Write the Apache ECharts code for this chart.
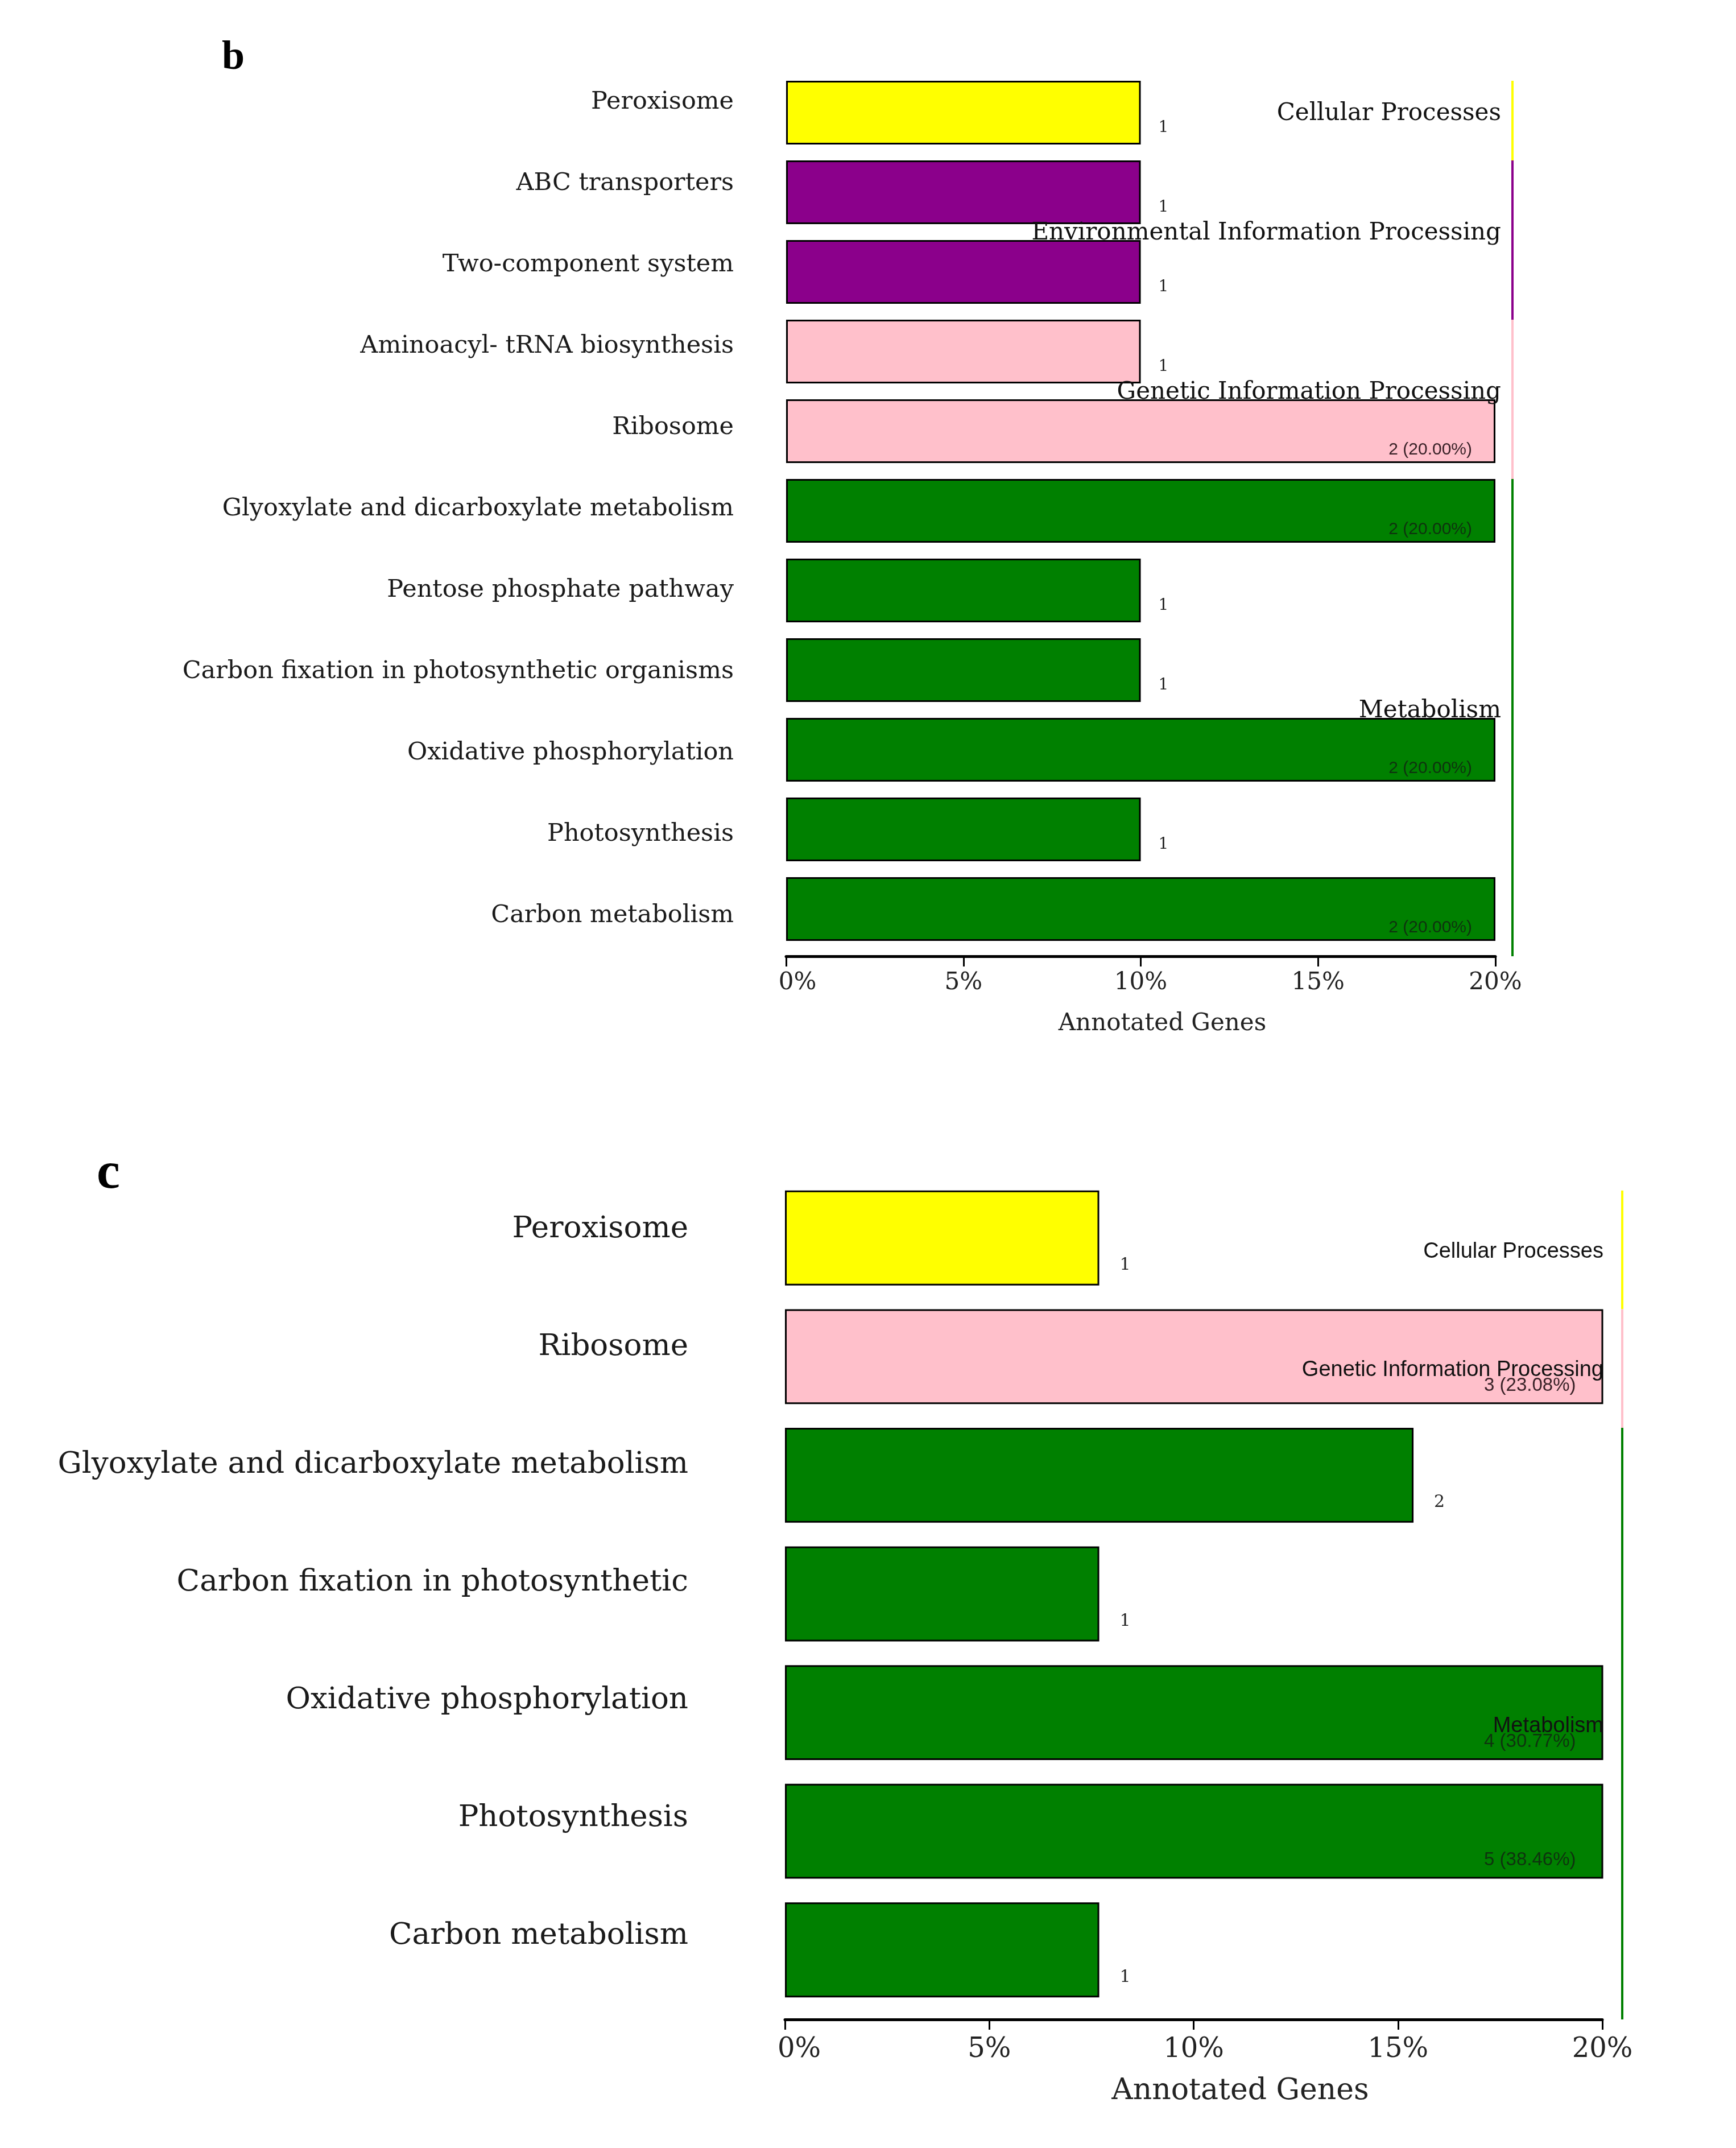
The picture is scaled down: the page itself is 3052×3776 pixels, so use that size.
<!DOCTYPE html>
<html><head><meta charset="utf-8">
<script src="https://cdn.jsdelivr.net/npm/echarts@6/dist/echarts.min.js"></script>
<style>html,body{margin:0;padding:0;background:#fff}#main{width:3052px;height:3776px}</style>
</head><body><div id="main"></div>
<script>
// ---- Panel b data ----
const bCategories = ['Peroxisome','ABC transporters','Two-component system','Aminoacyl- tRNA biosynthesis','Ribosome','Glyoxylate and dicarboxylate metabolism','Pentose phosphate pathway','Carbon fixation in photosynthetic organisms','Oxidative phosphorylation','Photosynthesis','Carbon metabolism'];
const bCounts = [1,1,1,1,2,2,1,1,2,1,2];
const bPercent = [10,10,10,10,20,20,10,10,20,10,20];
const bClasses = ['Cellular Processes','Environmental Information Processing','Environmental Information Processing','Genetic Information Processing','Genetic Information Processing','Metabolism','Metabolism','Metabolism','Metabolism','Metabolism','Metabolism'];

// ---- Panel c data ----
const cCategories = ['Peroxisome','Ribosome','Glyoxylate and dicarboxylate metabolism','Carbon fixation in photosynthetic','Oxidative phosphorylation','Photosynthesis','Carbon metabolism'];
const cCounts = [1,3,2,1,4,5,1];
const cPercent = [7.69,23.08,15.38,7.69,30.77,38.46,7.69];
const cClasses = ['Cellular Processes','Genetic Information Processing','Metabolism','Metabolism','Metabolism','Metabolism','Metabolism'];

// ---- axis ----
const xMin = 0, xMax = 20, xStep = 5;
const xTitle = 'Annotated Genes';
const classNames = ['Cellular Processes','Environmental Information Processing','Genetic Information Processing','Metabolism'];
const classColors = ['#FFFF00','#8B008B','#FFC0CB','#008000'];

const BAR_FRAC = 0.8;
const SERIF = 'DejaVu Serif';
const SANS = 'Liberation Sans';

function groupsOf(classes) {
  const out = [];
  classes.forEach((c, i) => {
    if (out.length && out[out.length - 1].cls === c) out[out.length - 1].end = i;
    else out.push({cls: c, start: i, end: i});
  });
  return out.map((g, k) => [xMax, g.start, g.end, classNames.indexOf(g.cls), k === out.length - 1 ? 1 : 0]);
}

function barData(counts, pct, classes, o) {
  return pct.map((v, i) => {
    const inside = v >= xMax;
    return {
      value: v,
      itemStyle: {color: classColors[classNames.indexOf(classes[i])], borderColor: '#000', borderWidth: 3},
      label: inside ? {
        show: true, position: 'insideBottomRight', distance: o.inDist, offset: [o.inDx, 0],
        formatter: counts[i] + ' (' + v.toFixed(2) + '%)',
        fontFamily: SANS, fontSize: o.inSize, color: classes[i] === 'Metabolism' ? '#0e330e' : '#3a2228'
      } : {
        show: true, position: 'right', distance: o.outDist, offset: [0, o.outDy],
        formatter: String(counts[i]), fontFamily: SERIF, fontSize: o.outSize, color: '#222'
      }
    };
  });
}

function groupSeries(xi, yi, classes, o) {
  return {
    type: 'custom', xAxisIndex: xi, yAxisIndex: yi, clip: false, silent: true, z: 10,
    data: groupsOf(classes),
    encode: {x: 0, y: 1},
    renderItem(params, api) {
      const s = api.value(1), e = api.value(2), ci = api.value(3), last = api.value(4);
      const band = api.size([0, 1])[1];
      const pS = api.coord([xMax, s]);
      const pE = api.coord([xMax, e]);
      const top = pS[1] - band * BAR_FRAC / 2;
      const bottom = last ? pE[1] + band / 2 + o.axisOffset : api.coord([xMax, e + 1])[1] - band * BAR_FRAC / 2;
      const x = pS[0] + o.lineGap;
      const midY = (top + pE[1] + band * BAR_FRAC / 2) / 2 + o.textDy;
      return {type: 'group', children: [
        {type: 'line', shape: {x1: x, y1: top, x2: x, y2: bottom}, style: {stroke: classColors[ci], lineWidth: 4}},
        {type: 'text', x: x - o.textGap, y: midY, style: {text: classNames[ci], align: 'right', verticalAlign: 'middle', fontFamily: o.font, fontSize: o.size, fill: '#111'}}
      ]};
    }
  };
}

function xAxisOf(gi, o) {
  return {
    gridIndex: gi, type: 'value', min: xMin, max: xMax, interval: xStep, offset: o.offset,
    axisLine: {show: true, lineStyle: {color: '#000', width: 5}},
    axisTick: {show: true, length: 18, lineStyle: {color: '#000', width: 3}},
    axisLabel: {
      margin: o.margin, fontFamily: SERIF, fontSize: o.tick, color: '#222',
      formatter: (v) => v === xMin ? '{first|' + v + '%}' : v + '%',
      rich: {first: {padding: [0, 0, 0, o.firstShift * 2], fontFamily: SERIF, fontSize: o.tick, color: '#222'}}
    },
    splitLine: {show: false},
    name: xTitle, nameLocation: 'middle', nameGap: o.nameGap,
    nameTextStyle: {fontFamily: SERIF, fontSize: o.title, color: '#222', padding: [0, 0, 0, o.nameShift * 2]}
  };
}

function hiddenX(gi) {
  return {gridIndex: gi, type: 'value', min: xMin, max: xMax, show: false};
}

function barYAxis(gi, cats) {
  return {
    gridIndex: gi, type: 'category', data: cats, inverse: true,
    axisLine: {show: false}, axisTick: {show: false}, splitLine: {show: false}, axisLabel: {show: false}
  };
}

function labelYAxis(gi, cats, o) {
  return {
    gridIndex: gi, type: 'category', data: cats, inverse: true,
    axisLine: {show: false}, axisTick: {show: false}, splitLine: {show: false},
    axisLabel: {margin: o.margin, fontFamily: SERIF, fontSize: o.size, color: '#1a1a1a', interval: 0}
  };
}

const chart = echarts.init(document.getElementById('main'), null, {renderer: 'canvas'});
chart.setOption({
  backgroundColor: '#fff',
  animation: false,
  title: [
    {text: 'b', left: 390, top: 66, padding: 0, textStyle: {fontFamily: 'Liberation Serif', fontWeight: 'bold', fontSize: 72, color: '#000'}},
    {text: 'c', left: 170, top: 2018, padding: 0, textStyle: {fontFamily: 'Liberation Serif', fontWeight: 'bold', fontSize: 92, color: '#000'}}
  ],
  grid: [
    {left: 1382, top: 128, width: 1247, height: 1540},
    {left: 1380, top: 2072, width: 1437, height: 1460},
    {left: 1382, top: 108, width: 1247, height: 1573},
    {left: 1380, top: 2058, width: 1437, height: 1449}
  ],
  xAxis: [
    xAxisOf(0, {offset: 13, margin: 26, tick: 42, title: 42, nameGap: 98, firstShift: 20, nameShift: 38}),
    xAxisOf(1, {offset: 18, margin: 30, tick: 48, title: 52, nameGap: 100, firstShift: 25, nameShift: 82}),
    hiddenX(2),
    hiddenX(3)
  ],
  yAxis: [
    barYAxis(0, bCategories),
    barYAxis(1, cCategories),
    labelYAxis(2, bCategories, {margin: 92, size: 43}),
    labelYAxis(3, cCategories, {margin: 170, size: 53})
  ],
  series: [
    {type: 'bar', xAxisIndex: 0, yAxisIndex: 0, barCategoryGap: '20%', clip: true,
     data: barData(bCounts, bPercent, bClasses, {inDist: 8, inDx: -33, inSize: 30, outDist: 31, outDy: 27, outSize: 28})},
    {type: 'bar', xAxisIndex: 1, yAxisIndex: 1, barCategoryGap: '20%', clip: true,
     data: barData(cCounts, cPercent, cClasses, {inDist: 16, inDx: -32, inSize: 33, outDist: 36, outDy: 48, outSize: 30})},
    groupSeries(0, 0, bClasses, {axisOffset: 13, lineGap: 30, textGap: 20, textDy: 2, font: SERIF, size: 42}),
    groupSeries(1, 1, cClasses, {axisOffset: 18, lineGap: 35, textGap: 33, textDy: 24, font: SANS, size: 38})
  ]
});
</script>
</body></html>
